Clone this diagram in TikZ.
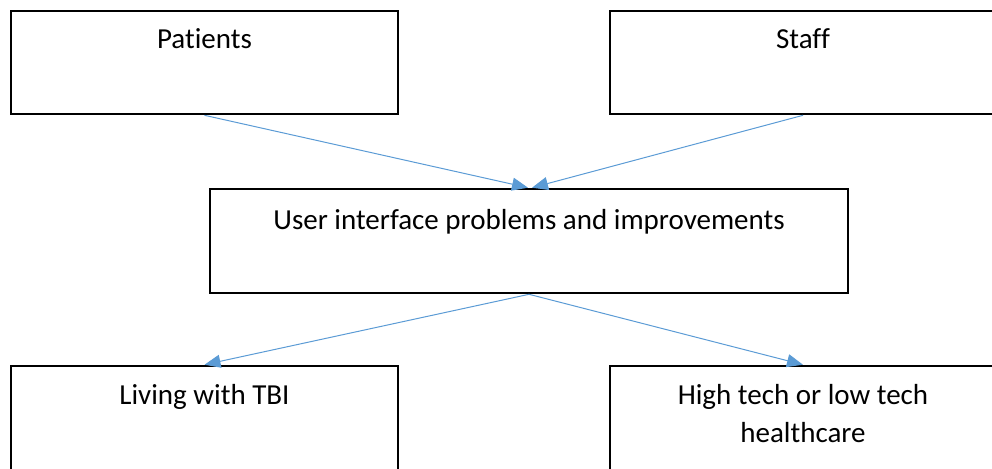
\documentclass[tikz,border=0pt]{standalone}
\usepackage{fontspec}
\setmainfont[Ligatures=NoCommon]{Carlito}
\usetikzlibrary{arrows.meta}

\begin{document}
\begin{tikzpicture}[x=1pt,y=-1pt,
  box/.style={draw,line width=2.6pt,inner sep=0pt},
  boxtext/.style={anchor=base,align=center,inner sep=0pt,font=\fontsize{29}{38}\selectfont},
  link/.style={draw={rgb,255:red,91;green,155;blue,213},line width=1pt,
    -{Triangle[length=16pt,width=13pt]}}]
\useasboundingbox (0,0) rectangle (992,468);
\clip (0,0) rectangle (992,468);

\node[box,minimum width=387pt,minimum height=103pt] (pat) at (204.5,62.5) {};
\node[box,minimum width=386pt,minimum height=103pt] (staff) at (803,62.5) {};
\node[box,minimum width=638pt,minimum height=104pt] (ui) at (529,241) {};
\node[box,minimum width=387pt,minimum height=110pt] (tbi) at (204.5,421) {};
\node[box,minimum width=386pt,minimum height=110pt] (tech) at (803,421) {};

\node[boxtext] (pat-t) at ([yshift=-39pt]pat.north) {Patients};
\node[boxtext] (staff-t) at ([yshift=-39pt]staff.north) {Staff};
\node[boxtext] (ui-t) at ([yshift=-42pt]ui.north) {User interface problems and improvements};
\node[boxtext] (tbi-t) at ([yshift=-40pt]tbi.north) {Living with TBI};
% base of a two-line node is the last line
\node[boxtext] (tech-t) at ([yshift=-78pt]tech.north) {High tech or low tech\\healthcare};

\path[link] (pat.south) -- ([xshift=-1pt]ui.north);
\path[link] (staff.south) -- ([xshift=3pt]ui.north);
\path[link] (ui.south) -- (tbi.north);
\path[link] (ui.south) -- (tech.north);
\end{tikzpicture}
\end{document}
